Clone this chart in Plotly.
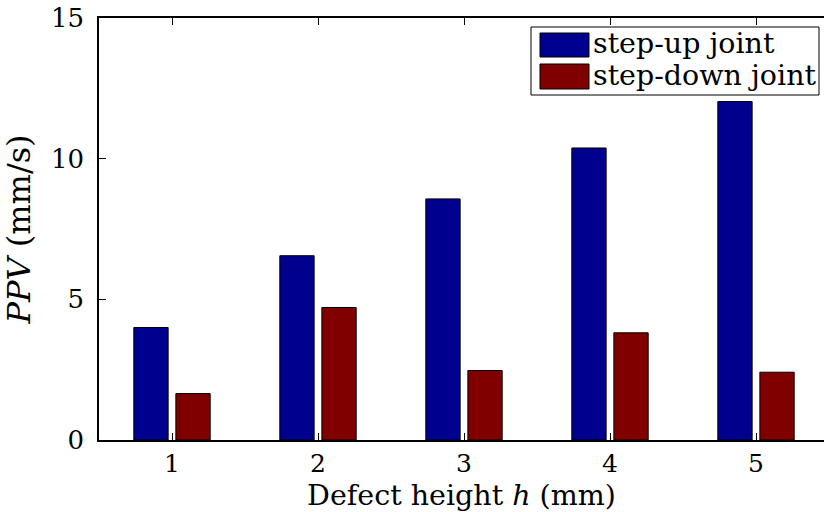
import plotly.graph_objects as go

categories = [1, 2, 3, 4, 5]
step_up = [4.0, 6.55, 8.57, 10.38, 12.03]
step_down = [1.65, 4.71, 2.47, 3.81, 2.41]
series_names = ["step-up joint", "step-down joint"]
colors = ["#00008F", "#800000"]
y_ticks = [0, 5, 10, 15]

FONT = "DejaVu Serif"
FS = 28.5
TFS = 25

W, H = 824, 512
L, R, T, B = 99, 0, 18, 72
pw = W - L - R
ph = H - T - B

def px(x):
    return (x - L) / pw

def py(y):
    return (H - B - y) / ph

fig = go.Figure()
for name, vals, col in zip(series_names, [step_up, step_down], colors):
    fig.add_trace(go.Bar(
        x=categories, y=vals, name=name,
        marker=dict(color=col, line=dict(color="black", width=1)),
        showlegend=False,
    ))

# manual legend (large swatches like the MATLAB original)
shapes = [dict(type="rect", xref="paper", yref="paper",
               x0=px(531), x1=px(819), y0=py(95), y1=py(27),
               line=dict(color="black", width=1), fillcolor="white", layer="above")]
annotations = []
sw_rows = [(33, 57), (64, 89)]
for (y0, y1), name, col in zip(sw_rows, series_names, colors):
    shapes.append(dict(type="rect", xref="paper", yref="paper",
                       x0=px(540), x1=px(589), y0=py(y1), y1=py(y0),
                       line=dict(color="black", width=1), fillcolor=col, layer="above"))
    annotations.append(dict(xref="paper", yref="paper", x=px(591), y=py((y0 + y1) / 2 - 1),
                            text=name, showarrow=False, xanchor="left", yanchor="middle",
                            font=dict(family=FONT, size=FS, color="black")))

fig.update_layout(
    width=W, height=H,
    margin=dict(l=L, r=R, t=T, b=B, autoexpand=False),
    paper_bgcolor="white", plot_bgcolor="white",
    barmode="group", bargap=0.424, bargroupgap=0.184,
    font=dict(family=FONT, size=FS, color="black"),
    shapes=shapes, annotations=annotations,
    showlegend=False,
)
fig.update_xaxes(
    range=[0.5, 0.5 + pw / 146.0],
    tickvals=categories, ticktext=[str(c) for c in categories],
    ticks="inside", ticklen=7, tickwidth=1, tickcolor="black",
    showline=True, linecolor="black", linewidth=1.5, mirror="ticks",
    showgrid=False, zeroline=False,
    title=dict(text="Defect height <i>h</i> (mm)", standoff=10,
               font=dict(family=FONT, size=28.5)),
    tickfont=dict(family=FONT, size=TFS),
    ticklabelstandoff=0,
)
fig.update_yaxes(
    range=[0, 15], tickvals=y_ticks,
    ticks="inside", ticklen=7, tickwidth=1, tickcolor="black",
    showline=True, linecolor="black", linewidth=1.5,
    showgrid=False, zeroline=False,
    title=dict(text="<i>PPV</i> (mm/s)", standoff=12,
               font=dict(family=FONT, size=32)),
    tickfont=dict(family=FONT, size=26),
    ticklabelstandoff=8,
)
fig.write_html("out.html")
